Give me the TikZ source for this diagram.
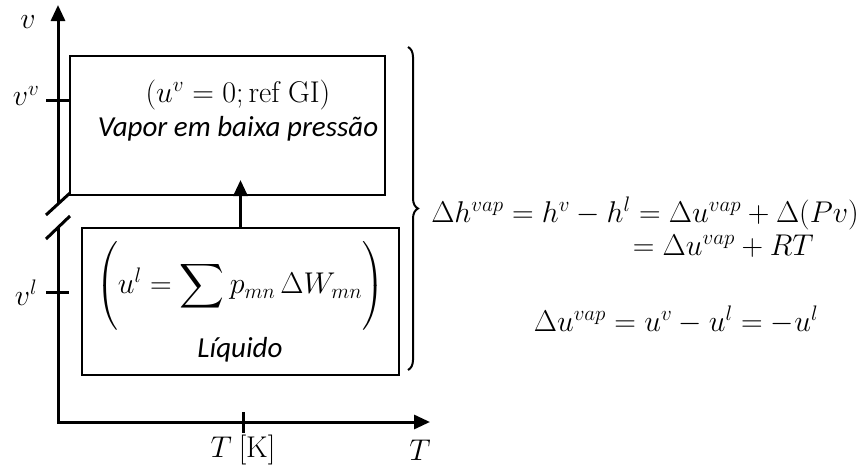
\RequirePackage{fix-cm}
\documentclass[tikz,border=0pt]{standalone}
\usepackage{amsmath}
\usepackage[no-math]{fontspec}
\setmainfont{Carlito}
\usetikzlibrary{arrows.meta,decorations.pathreplacing}
\begin{document}
\begin{tikzpicture}[x=1pt,y=-1pt,
 ax/.style={line width=3pt},
 box/.style={draw,line width=2.8pt,inner sep=0pt},
 lbl/.style={inner sep=0pt,font=\fontsize{30}{36}\selectfont},
 eqn/.style={inner sep=0pt,font=\fontsize{30}{36}\selectfont},
 txt/.style={inner sep=0pt,font=\fontsize{29}{35}\selectfont\itshape},
 tip/.style={-{Triangle[length=16pt,width=14pt]}}]
\useasboundingbox (0,0) rectangle (863,466);
% boxes
\node[box,minimum width=315pt,minimum height=139pt] (vap) at (227.5,125.5) {};
\node[box,minimum width=317pt,minimum height=147pt] (liq) at (240.5,301.5) {};
\node[lbl] (vapm) at (238,95) {$(u^v=0;\mathrm{ref\ GI})$};
\node[txt] (vapt) at (238,129) {Vapor em baixa pressão};
\node[lbl] (liqm) at (240,286) {$\Bigg(u^l=\mathop{\vcenter{\hbox{\scalebox{1.25}{$\displaystyle\sum$}}}}p_{mn}\,\Delta W_{mn}\Bigg)$};
\node[txt] (liqt) at (240,350) {Líquido};
% arrow
\coordinate (atip) at (240.5,180);
\draw[ax,tip] (liq.north) -- (atip);
% axes
\coordinate (o) at (58,422);
\coordinate (ytop) at (58,5);
\coordinate (xend) at (430,422);
\coordinate (b1) at (58,227);
\coordinate (b2) at (58,203);
\draw[ax,tip] (b1) -- (o) -- (xend);
\draw[ax,tip] (b2) -- (ytop);
\coordinate (s1a) at (46,239); \coordinate (s1b) at (70,216);
\coordinate (s2a) at (46,215); \coordinate (s2b) at (70,193);
\draw[ax] (s1a) -- (s1b);
\draw[ax] (s2a) -- (s2b);
% ticks
\coordinate (tv1) at (46,100); \coordinate (tv2) at (70,100);
\coordinate (tl1) at (46,292); \coordinate (tl2) at (69,292);
\coordinate (tx1) at (243,412); \coordinate (tx2) at (243,433);
\draw[ax] (tv1) -- (tv2);
\draw[ax] (tl1) -- (tl2);
\draw[ax] (tx1) -- (tx2);
% axis labels
\node[lbl] (lv) at (28,22) {$v$};
\node[lbl] (lvv) at (26,96) {$v^v$};
\node[lbl] (lvl) at (26,293) {$v^l$};
\node[lbl] (ltk) at (243,450) {$T\ [\mathrm{K}]$};
\node[lbl] (lt) at (420,450) {$T$};
% brace
\coordinate (br1) at (408,47); \coordinate (br2) at (408,370);
\draw[line width=2pt,decorate,decoration={brace,amplitude=10pt}] (br1) -- (br2);
% equations
\node[eqn,anchor=base east] (eq1) at (859,222) {$\Delta h^{vap}=h^v-h^l=\Delta u^{vap}+\Delta(Pv)$};
\node[eqn,anchor=base east] (eq2) at (814,255) {$=\Delta u^{vap}+RT$};
\node[eqn,anchor=base] (eq3) at (676,331) {$\Delta u^{vap}=u^v-u^l=-u^l$};
\end{tikzpicture}
\end{document}
